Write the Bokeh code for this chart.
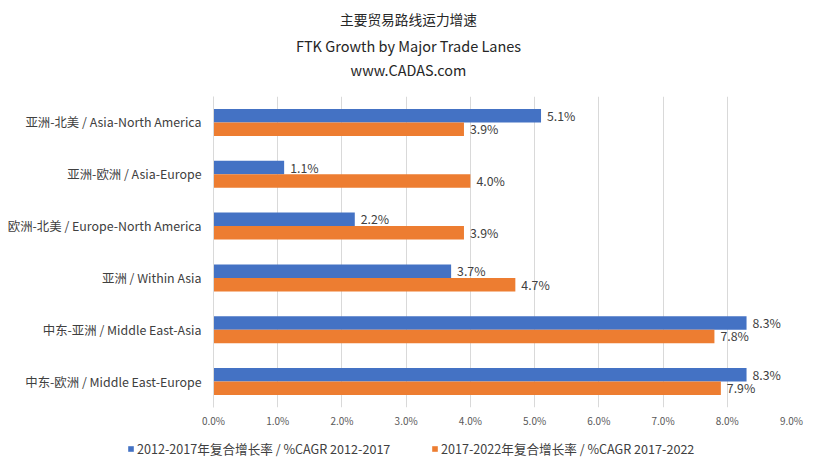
from bokeh.plotting import figure
from bokeh.layouts import column
from bokeh.models import (FactorRange, Range1d, Label, Legend, LegendItem,
                          ColumnDataSource, FixedTicker, PrintfTickFormatter)
from bokeh.transform import dodge
from bokeh.embed import file_html
from bokeh.resources import INLINE
from bokeh.core.properties import value

# ---------------- data ----------------
categories = [
    "亚洲-北美 / Asia-North America",
    "亚洲-欧洲 / Asia-Europe",
    "欧洲-北美 / Europe-North America",
    "亚洲 / Within Asia",
    "中东-亚洲 / Middle East-Asia",
    "中东-欧洲 / Middle East-Europe",
]
cagr_2012_2017 = [5.1, 1.1, 2.2, 3.7, 8.3, 8.3]
cagr_2017_2022 = [3.9, 4.0, 3.9, 4.7, 7.8, 7.9]
series_names = [
    "2012-2017年复合增长率 / %CAGR 2012-2017",
    "2017-2022年复合增长率 / %CAGR 2017-2022",
]
x_ticks = [0, 1, 2, 3, 4, 5, 6, 7, 8, 9]
title_lines = ["主要贸易路线运力增速", "FTK Growth by Major Trade Lanes", "www.CADAS.com"]

FONT = "Noto Sans CJK SC"
BLUE = "#4472C4"
ORANGE = "#ED7D31"
TXT = "#404040"

W = 815
LEFT, RIGHT = 213, 24
FRAME_W = W - LEFT - RIGHT
TITLE_H = 96
FRAME_H = 311
AXIS_H = 26
LEG_H = 33


def free_frame(fig):
    try:
        fig.frame_align = False
        return True
    except Exception:
        return False


src = ColumnDataSource(dict(
    cat=categories,
    a=cagr_2012_2017,
    b=cagr_2017_2022,
    a_lab=[f"{v:.1f}%" for v in cagr_2012_2017],
    b_lab=[f"{v:.1f}%" for v in cagr_2017_2022],
))

# ---------------- title strip ----------------
t = figure(width=W, height=TITLE_H, output_backend="svg", toolbar_location=None,
           title=None, min_border=0)
if free_frame(t):
    t.x_range = Range1d(0, W)
    tx = 408
else:
    t.min_border_left = LEFT
    t.min_border_right = RIGHT
    t.x_range = Range1d(0, FRAME_W)
    tx = 408 - LEFT
t.y_range = Range1d(TITLE_H, 0)
t.axis.visible = False
t.grid.visible = False
t.outline_line_color = None
title_y = [18, 45, 69]
title_sizes = ["13.7px", "14.5px", "14.4px"]
for txt, fy, fs in zip(title_lines, title_y, title_sizes):
    t.add_layout(Label(x=tx, y=fy, text=txt, text_align="center",
                       text_baseline="middle", text_font=FONT,
                       text_font_size=fs, text_color="#262626"))

# ---------------- main chart ----------------
p = figure(width=W, height=FRAME_H + AXIS_H, output_backend="svg",
           toolbar_location=None, title=None,
           y_range=FactorRange(factors=list(reversed(categories))),
           x_range=Range1d(0, 9),
           min_border_left=LEFT, min_border_right=RIGHT,
           min_border_top=0, min_border_bottom=AXIS_H)
p.outline_line_color = None

bar_h = 0.26
off = 0.13
p.hbar(y=dodge("cat", off, range=p.y_range), right="a", left=0, height=bar_h,
       source=src, fill_color=BLUE, line_color=None)
p.hbar(y=dodge("cat", -off, range=p.y_range), right="b", left=0, height=bar_h,
       source=src, fill_color=ORANGE, line_color=None)

p.text(x="a", y=dodge("cat", off, range=p.y_range), text="a_lab", source=src,
       x_offset=6, text_baseline="middle", text_align="left",
       text_font=value(FONT), text_font_size="12.3px", text_color=TXT)
p.text(x="b", y=dodge("cat", -off, range=p.y_range), text="b_lab", source=src,
       x_offset=6, text_baseline="middle", text_align="left",
       text_font=value(FONT), text_font_size="12.3px", text_color=TXT)

p.xaxis.ticker = FixedTicker(ticks=x_ticks)
p.xaxis.formatter = PrintfTickFormatter(format="%.1f%%")
p.xaxis.axis_line_color = None
p.xaxis.major_tick_line_color = None
p.xaxis.major_tick_out = 0
p.xaxis.minor_tick_line_color = None
p.xaxis.major_label_text_font = FONT
p.xaxis.major_label_text_font_size = "10px"
p.xaxis.major_label_text_color = "#595959"
p.xaxis.major_label_standoff = 5

p.yaxis.axis_line_color = "#d9d9d9"
p.yaxis.major_tick_line_color = None
p.yaxis.major_tick_out = 0
p.yaxis.minor_tick_line_color = None
p.yaxis.major_label_text_font = FONT
p.yaxis.major_label_text_font_size = "12.4px"
p.yaxis.major_label_text_color = TXT
p.yaxis.major_label_standoff = 12

p.xgrid.ticker = FixedTicker(ticks=x_ticks)
p.xgrid.grid_line_color = "#d9d9d9"
p.ygrid.grid_line_color = None

# ---------------- legend strip ----------------
lg = figure(width=W, height=LEG_H, output_backend="svg", toolbar_location=None,
            title=None, min_border=0)
if free_frame(lg):
    lg.x_range = Range1d(0, W)
    lx = 127
    lw = 294
else:
    lg.min_border_left = LEFT
    lg.min_border_right = RIGHT
    lg.x_range = Range1d(0, FRAME_W)
    lx = 0
    lw = 250
lg.y_range = Range1d(0, LEG_H)
lg.axis.visible = False
lg.grid.visible = False
lg.outline_line_color = None
# zero-size proxies that only lend their colours to the legend
lr1 = lg.hbar(y="a", left=0, right=0, height=0, source=src,
              fill_color=BLUE, line_color=None)
lr2 = lg.hbar(y="b", left=0, right=0, height=0, source=src,
              fill_color=ORANGE, line_color=None)

legend = Legend(items=[LegendItem(label=series_names[0], renderers=[lr1]),
                       LegendItem(label=series_names[1], renderers=[lr2])],
                location=(lx, 8), orientation="horizontal",
                glyph_width=7, glyph_height=7, label_standoff=3,
                label_width=lw, label_height=16, padding=0, margin=0, spacing=0,
                border_line_color=None, background_fill_alpha=0,
                label_text_font=FONT, label_text_font_size="12.6px",
                label_text_color=TXT)
lg.add_layout(legend)

layout = column(t, p, lg, spacing=0)
open("out.html", "w").write(file_html(layout, INLINE))
